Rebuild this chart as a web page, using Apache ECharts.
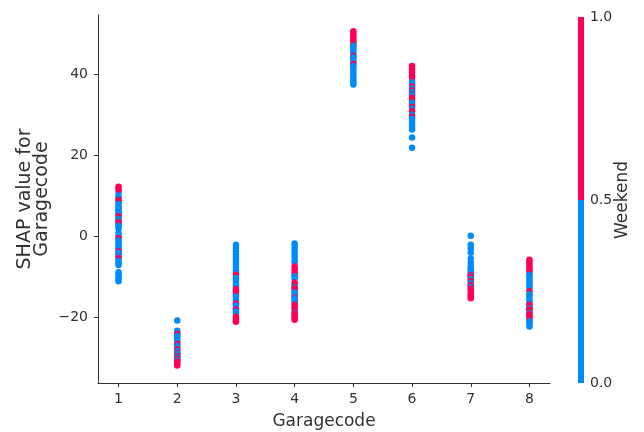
<!DOCTYPE html>
<html>
<head>
<meta charset="utf-8">
<script src="https://cdn.jsdelivr.net/npm/echarts@6/dist/echarts.min.js"></script>
<style>html,body{margin:0;padding:0;background:#fff}#c{width:644px;height:432px}</style>
</head>
<body>
<div id="c"></div>
<script>
// Garage codes (x positions)
const garageCodes = [1, 2, 3, 4, 5, 6, 7, 8];
// SHAP values per garage, and Weekend flag (0/1) for each point, in draw order
const shapG1 = [12.3, 11, 10, 11.6, 9.5, 8.5, 9, 8, 7, 6.5, 7.3, 6, 5.5, 5, 4, 4.4, 3, 3.5, 2.6, 2, 0.8, 0, -0.4, -1, -1.5, -2, -2.6, -3, -3.6, -4, -4.5, -5, -5.3, -6, -6.5, -7, -8.8, -9.3, -10, -10.5, -11];
const wkG1   = [1,    0,  0,  1,    0,   0,   1, 0, 0, 0,   0,   0, 0,   1, 0, 0,   0, 1,   0,   0, 0,   0, 1,    0,  0,    0,  0,    0,  1,    0,  0,    0,  1,    0,  0,    0,  0,    0,    0,   0,     0];
const shapG2 = [-20.7, -23.2, -23.8, -24, -24.5, -25, -25.6, -26.2, -26.5, -27, -27.5, -27.8, -28.3, -28.8, -29, -29.5, -29.8, -30.2, -30.5, -30.8, -31.3, -31.8];
const wkG2   = [0,     0,     0,     1,   0,     0,   0,     0,     1,     0,   0,     1,     0,     1,     0,   1,     0,     1,     0,     1,     1,     1];
const shapG3 = [-2, -2.8, -3.6, -4.5, -5.3, -6, -6.8, -7.5, -8.3, -9, -9.4, -10.2, -11, -11.8, -12.4, -13, -13.6, -14.2, -14.8, -15.5, -16.3, -16.5, -17, -17.8, -18, -18.5, -19, -19.8, -20.3, -20.8, -21];
const wkG3   = [0,  0,    0,    0,    0,    0,  0,    0,    0,    0,  1,    0,     0,   0,     0,     1,   1,     1,     0,     0,     0,     1,     0,   0,     1,   0,     0,   1,     1,     1,     1];
const shapG4 = [-1.7, -2.5, -3.3, -4.2, -5, -5.8, -6.4, -7.4, -8.1, -8.8, -9.4, -9.8, -10.3, -11.4, -12, -12.5, -12.8, -13.5, -13.8, -14.5, -15, -15.2, -15.8, -16.3, -16.8, -17.5, -18.2, -18.8, -19, -19.6, -20.1, -20.5];
const wkG4   = [0,    0,    0,    0,    0,  0,    0,    1,    1,    1,    1,    0,    0,     1,     1,   0,     1,     1,     0,     0,     1,   0,     0,     0,     1,     1,     1,     0,     1,   1,     1,     1];
const shapG5 = [50.6, 50, 49.4, 48.8, 48.2, 47.6, 47, 47, 46.3, 45.6, 45, 44.5, 44.2, 43.5, 42.8, 42.5, 42, 41.4, 40.6, 40, 39.3, 38.6, 38, 37.5];
const wkG5   = [1,    1,  1,    1,    1,    1,    1,  0,  0,    0,    0,  1,    0,    0,    0,    1,    0,  0,    0,    0,  0,    0,    0,  0];
const shapG6 = [42, 41.3, 40.5, 39.7, 38.9, 38, 37.5, 37, 36.5, 36, 35.6, 35, 34.8, 34.2, 33.5, 33, 32.5, 32, 31.5, 30.9, 30, 29.5, 29, 28.5, 27.8, 27, 26.4, 24.4, 21.9];
const wkG6   = [1,  1,    1,    1,    1,    0,  0,    1,  0,    1,  0,    1,  0,    1,    1,    0,  0,    1,  0,    1,    0,  1,    0,  0,    0,    0,  0,    0,    0];
const shapG7 = [0.2, -2, -3, -4, -5.5, -6.5, -7.5, -8, -8.6, -9.2, -9.5, -9.8, -10, -10.5, -11, -11.5, -12, -12.5, -12.8, -13.5, -14.2, -14.8, -15.2];
const wkG7   = [0,   0,  0,  0,  0,    0,    0,    0,  0,    0,    1,    0,    1,   0,     1,   0,     1,   0,     1,     1,     1,     1,     1];
const shapG8 = [-5.7, -6.3, -7, -7.7, -8.3, -8.9, -9.4, -10, -10.7, -11.3, -12, -12.6, -13.5, -14.2, -14.8, -15.5, -16.2, -16.8, -17.4, -17.7, -18, -18.6, -19, -19.2, -19.8, -20.4, -20.9, -21.5, -22.2];
const wkG8   = [1,    1,    1,  1,    1,    1,    0,    0,   0,     0,     0,   0,     1,     0,     0,     0,     0,     1,     1,     0,     1,   1,     0,   1,     1,     1,     0,     0,     0];
// Tick values
const xTicks = [1, 2, 3, 4, 5, 6, 7, 8];
const yTicks = [-20, 0, 20, 40];
const colorbarTicks = [0, 0.5, 1];
const colorbarSegments = [0.5, 0.5];

const BLUE = '#008bfb', RED = '#ff0052', INK = '#333333';
const allShap = [shapG1, shapG2, shapG3, shapG4, shapG5, shapG6, shapG7, shapG8];
const allWk = [wkG1, wkG2, wkG3, wkG4, wkG5, wkG6, wkG7, wkG8];
const points = [];
garageCodes.forEach((g, i) => {
  allShap[i].forEach((v, j) => points.push([g, v, allWk[i][j]]));
});

const font = 'DejaVu Sans';
const chart = echarts.init(document.getElementById('c'), null, {renderer: 'canvas'});
chart.setOption({
  animation: false,
  backgroundColor: '#fff',
  textStyle: {fontFamily: font},
  grid: [
    {left: 98, top: 15, width: 452, height: 368, containLabel: false, outerBoundsMode: 'none'},
    {left: 578, top: 17, width: 6, height: 366, containLabel: false, outerBoundsMode: 'none'}
  ],
  xAxis: [
    {
      gridIndex: 0, type: 'value', min: 0.65, max: 8.35,
      name: 'Garagecode', nameLocation: 'middle', nameGap: 30, nameMoveOverlap: false,
      nameTextStyle: {fontSize: 17, color: INK, fontFamily: font},
      axisLine: {onZero: false, lineStyle: {color: INK, width: 1}},
      axisTick: {show: true, length: 4, lineStyle: {color: INK}, customValues: xTicks},
      axisLabel: {fontSize: 14, color: INK, margin: 9, fontFamily: font, customValues: xTicks},
      splitLine: {show: false}
    },
    {
      gridIndex: 1, type: 'category', data: [''], show: false, boundaryGap: true
    }
  ],
  yAxis: [
    {
      gridIndex: 0, type: 'value', min: -36.1, max: 54.6,
      name: 'SHAP value for\nGaragecode', nameLocation: 'middle', nameGap: 47, nameRotate: 90,
      nameMoveOverlap: false,
      nameTextStyle: {fontSize: 19, lineHeight: 17, color: INK, fontFamily: font},
      axisLine: {show: true, onZero: false, lineStyle: {color: INK, width: 1}},
      axisTick: {show: true, length: 4, lineStyle: {color: INK}, customValues: yTicks},
      axisLabel: {fontSize: 14, color: INK, margin: 10, fontFamily: font, customValues: yTicks,
        formatter: v => (v < 0 ? '\u2212' + Math.abs(v) : String(v))},
      splitLine: {show: false}
    },
    {
      gridIndex: 1, type: 'value', min: 0, max: 1, position: 'right',
      name: 'Weekend', nameLocation: 'middle', nameGap: 30, nameRotate: 90, nameMoveOverlap: false,
      nameTextStyle: {fontSize: 17, color: INK, fontFamily: font},
      axisLine: {show: false},
      axisTick: {show: false, customValues: colorbarTicks},
      axisLabel: {fontSize: 14, color: INK, margin: 6, fontFamily: font, customValues: colorbarTicks,
        formatter: v => v.toFixed(1)},
      splitLine: {show: false}
    }
  ],
  visualMap: {
    show: false, type: 'piecewise', dimension: 2, seriesIndex: 0,
    pieces: [{lt: 0.5, color: BLUE}, {gte: 0.5, color: RED}]
  },
  series: [
    {
      type: 'scatter', xAxisIndex: 0, yAxisIndex: 0, data: points,
      symbolSize: 6.5, itemStyle: {opacity: 1}
    },
    {
      type: 'bar', xAxisIndex: 1, yAxisIndex: 1, stack: 'cb', barWidth: 6,
      data: [colorbarSegments[0]], itemStyle: {color: BLUE}
    },
    {
      type: 'bar', xAxisIndex: 1, yAxisIndex: 1, stack: 'cb', barWidth: 6,
      data: [colorbarSegments[1]], itemStyle: {color: RED}
    }
  ]
});
</script>
</body>
</html>
